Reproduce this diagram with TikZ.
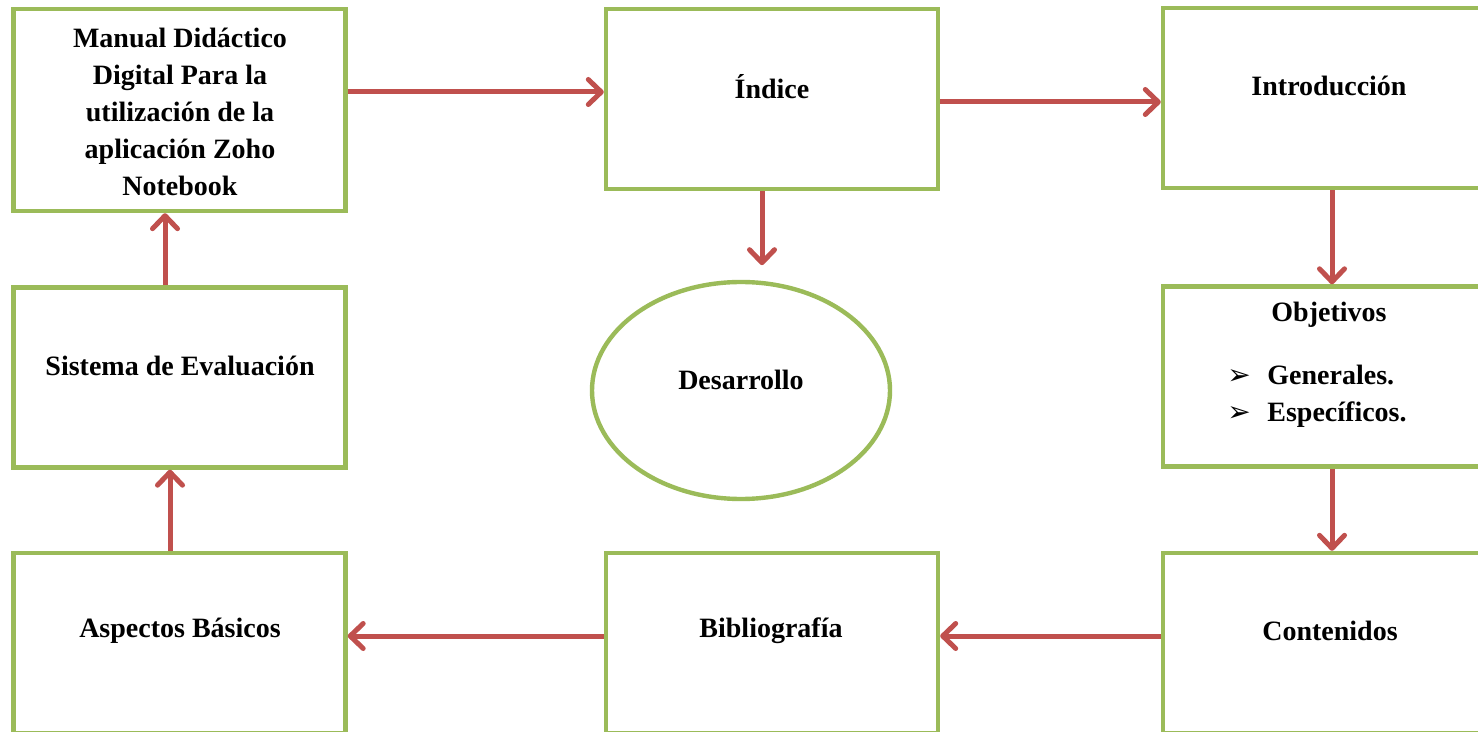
\documentclass[tikz,border=0pt]{standalone}
\usepackage{fontspec}
\setmainfont{Liberation Serif}
\newfontfamily\dingfont{DejaVu Sans}
\usetikzlibrary{arrows.meta,shapes.geometric}
\definecolor{mGreen}{HTML}{9BBB59}
\definecolor{mRed}{HTML}{C0504D}
\newcommand{\mBul}{\makebox[20pt][l]{{\dingfont\fontsize{14}{14}\selectfont ➢}}}
\tikzset{
  mBox/.style={draw=mGreen,line width=2.2pt,fill=white,inner sep=0pt,
        minimum width=166pt,minimum height=90pt},
  mOval/.style={ellipse,draw=mGreen,line width=2.2pt,fill=white,inner sep=0pt,
        minimum width=149pt,minimum height=108.5pt},
  mText/.style={font=\fontsize{14}{18.5}\selectfont\bfseries,align=center,inner sep=0pt},
  mArrow/.style={draw=mRed,line width=2.5pt,
        -{Straight Barb[length=6.5pt,width=12.5pt,round]}},
}
\begin{document}
\begin{tikzpicture}[x=0.5pt,y=-0.5pt]
\useasboundingbox (0,0) rectangle (1478,732);
% boxes
\node[mBox,minimum height=101pt] (man) at (179.5,110) {};
\node[mBox] (ind) at (772,99) {};
\node[mBox] (intro) at (1329,98) {};
\node[mBox] (sis) at (179.5,377.5) {};
\node[mOval] (des) at (741,390.5) {};
\node[mBox] (obj) at (1329,376.5) {};
\node[mBox] (asp) at (179.5,643) {};
\node[mBox] (bib) at (772,643) {};
\node[mBox] (cont) at (1329,643) {};
% texts
\node[mText] (manT) at (180,112) {Manual Didáctico\\Digital Para la\\utilización de la\\aplicación Zoho\\Notebook};
\node[mText] (indT) at (772,87) {Índice};
\node[mText] (introT) at (1329,86) {Introducción};
\node[mText] (sisT) at (180,366) {Sistema de Evaluación};
\node[mText] (desT) at (741,380) {Desarrollo};
\node[mText] (objT) at (1329,315) {Objetivos};
\node[mText,align=left,anchor=west] (objL) at (1227,396) {\mBul Generales.\\\mBul Específicos.};
\node[mText] (aspT) at (180,631) {Aspectos Básicos};
\node[mText] (bibT) at (771,631) {Bibliografía};
\node[mText] (contT) at (1330,631) {Contenidos};
% connectors
\draw[mArrow] ([yshift=9pt]man.east) -- ([yshift=9pt]man.east -| ind.west);
\draw[mArrow] ([yshift=-1.5pt]ind.east) -- ([yshift=-1.5pt]ind.east -| intro.west);
\draw[mArrow] ([xshift=-5pt]ind.south) -- ++(0,74);
\draw[mArrow] ([xshift=1.5pt]intro.south) -- ([xshift=1.5pt]obj.north);
\draw[mArrow] ([xshift=1.5pt]obj.south) -- ([xshift=1.5pt]cont.north);
\draw[mArrow] ([yshift=3.5pt]cont.west) -- ([yshift=3.5pt]bib.east);
\draw[mArrow] ([yshift=3.5pt]bib.west) -- ([yshift=3.5pt]asp.east);
\draw[mArrow] ([xshift=-4.75pt]asp.north) -- ([xshift=-4.75pt]sis.south);
\draw[mArrow] ([xshift=-7.25pt]sis.north) -- ([xshift=-7.25pt]man.south);
\end{tikzpicture}
\end{document}
